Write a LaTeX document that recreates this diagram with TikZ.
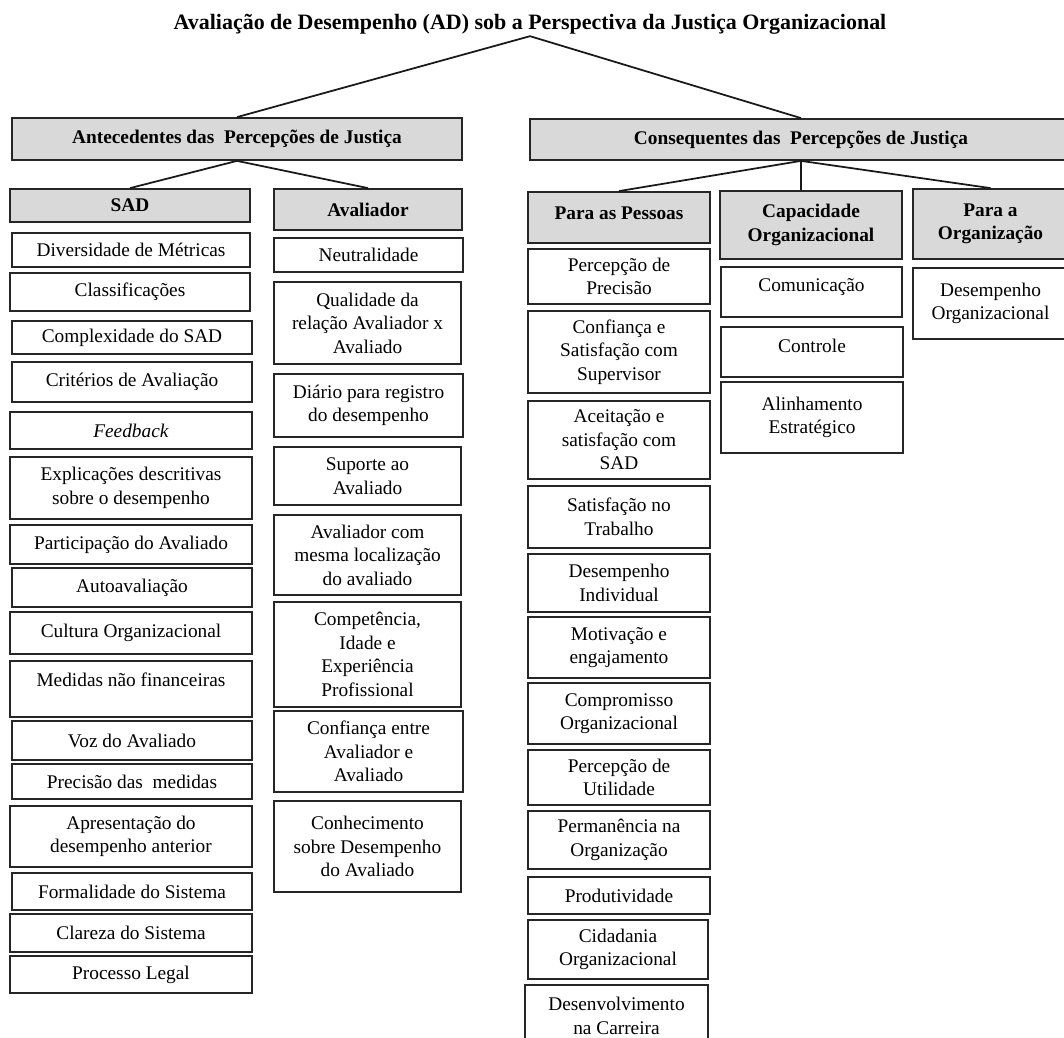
\documentclass[tikz,border=0pt]{standalone}
\usepackage{fontspec}
\setmainfont{Liberation Serif}

\tikzset{
  box/.style={draw=black!85, line width=1pt, inner sep=0pt, align=center,
    font=\fontsize{11}{13.4}\selectfont},
  head/.style={box, fill=gray!30, font=\bfseries\fontsize{11}{13.4}\selectfont},
  cell/.style 2 args={minimum width=#1*0.02cm, minimum height=#2*0.02cm},
  link/.style={line width=1pt, draw=black!90}
}

\begin{document}
\begin{tikzpicture}[x=0.02cm, y=-0.02cm]
\useasboundingbox (0,0) rectangle (1064,1037);

\node[font=\bfseries\fontsize{12.5}{15}\selectfont, inner sep=1pt] (title) at (530,24)
  {Avaliação de Desempenho (AD) sob a Perspectiva da Justiça Organizacional};

% antecedentes / consequentes
\node[head, cell={450}{42}] (ante) at (237,139) {Antecedentes das\ \ Percepções de Justiça};
\node[head, cell={542}{41}] (cons) at (801,139.5) {Consequentes das\ \ Percepções de Justiça};

\node[head, cell={240}{33}] (sad) at (130,205.5) {SAD};
\node[head, cell={188}{41}] (aval) at (368,209.5) {Avaliador};
\node[head, cell={182}{51}, text depth=5.4pt] (pess) at (619,217.5) {Para as Pessoas};
\node[head, cell={182}{68}] (cap) at (811,225) {Capacidade\\Organizacional};
\node[head, cell={155}{70}] (porg) at (990.5,224) {Para a\\Organização};

% SAD
\node[box, cell={238}{34}] (d1) at (131,250) {Diversidade de Métricas};
\node[box, cell={240}{38}] (d2) at (130,292) {Classificações};
\node[box, cell={240}{33}] (d3) at (132,337.5) {Complexidade do SAD};
\node[box, cell={240}{40}] (d4) at (132,382) {Critérios de Avaliação};
\node[box, cell={242}{37}] (d5) at (131,430.5) {\textit{Feedback}};
\node[box, cell={242}{62}] (d6) at (131,488) {Explicações descritivas\\sobre o desempenho};
\node[box, cell={242}{39}] (d7) at (131,544.5) {Participação do Avaliado};
\node[box, cell={240}{39}] (d8) at (132,587.5) {Autoavaliação};
\node[box, cell={242}{42}] (d9) at (131,633) {Cultura Organizacional};
\node[box, cell={242}{56}, text depth=10.4pt] (d10) at (131,689) {Medidas não financeiras};
\node[box, cell={240}{39}] (d11) at (132,740.5) {Voz do Avaliado};
\node[box, cell={240}{35}] (d12) at (132,781.5) {Precisão das\ \ medidas};
\node[box, cell={242}{61}] (d13) at (131,836.5) {Apresentação do\\desempenho anterior};
\node[box, cell={240}{37}] (d14) at (132,891.5) {Formalidade do Sistema};
\node[box, cell={242}{38}] (d15) at (131,933) {Clareza do Sistema};
\node[box, cell={242}{37}] (d16) at (131,974.5) {Processo Legal};

% avaliador
\node[box, cell={189}{34}] (a1) at (368.5,255) {Neutralidade};
\node[box, cell={187}{82}] (a2) at (367.5,323) {Qualidade da\\relação Avaliador x\\Avaliado};
\node[box, cell={189}{63}] (a3) at (368.5,405.5) {Diário para registro\\do desempenho};
\node[box, cell={187}{58}] (a4) at (367.5,476) {Suporte ao\\Avaliado};
\node[box, cell={187}{80}] (a5) at (367.5,555) {Avaliador com\\mesma localização\\do avaliado};
\node[box, cell={187}{105}] (a6) at (367.5,654.5) {Competência,\\Idade e\\Experiência\\Profissional};
\node[box, cell={189}{81}] (a7) at (368.5,751.5) {Confiança entre\\Avaliador e\\Avaliado};
\node[box, cell={187}{91}] (a8) at (367.5,846.5) {Conhecimento\\sobre Desempenho\\do Avaliado};

% para as pessoas
\node[box, cell={182}{55}] (p1) at (619,276.5) {Percepção de\\Precisão};
\node[box, cell={182}{82}] (p2) at (619,352) {Confiança e\\Satisfação com\\Supervisor};
\node[box, cell={182}{78}] (p3) at (619,440) {Aceitação e\\satisfação com\\SAD};
\node[box, cell={182}{62}] (p4) at (619,517) {Satisfação no\\Trabalho};
\node[box, cell={182}{58}] (p5) at (619,583) {Desempenho\\Individual};
\node[box, cell={182}{61}] (p6) at (619,647.5) {Motivação e\\engajamento};
\node[box, cell={182}{61}] (p7) at (619,713.5) {Compromisso\\Organizacional};
\node[box, cell={182}{55}] (p8) at (619,777.5) {Percepção de\\Utilidade};
\node[box, cell={182}{58}] (p9) at (619,840) {Permanência na\\Organização};
\node[box, cell={182}{37}] (p10) at (619,895.5) {Produtividade};
\node[box, cell={180}{59}] (p11) at (618,949.5) {Cidadania\\Organizacional};
\node[box, cell={183}{62}] (p12) at (616.5,1016) {Desenvolvimento\\na Carreira};

% capacidade / organizacao
\node[box, cell={181}{50}, text depth=8.1pt] (c1) at (811.5,292) {Comunicação};
\node[box, cell={182}{50}, text depth=6.9pt] (c2) at (812,352) {Controle};
\node[box, cell={182}{71}] (c3) at (812,417.5) {Alinhamento\\Estratégico};
\node[box, cell={155}{71}] (o1) at (990.5,303.5) {Desempenho\\Organizacional};

\draw[link] (title.south) -- (ante.north);
\draw[link] (title.south) -- (cons.north);
\draw[link] (ante.south) -- (sad.north);
\draw[link] (ante.south) -- (aval.north);
\draw[link] (cons.south) -- (pess.north);
\draw[link] (cons.south) -- (cons.south |- cap.north);
\draw[link] (cons.south) -- (porg.north);
\end{tikzpicture}
\end{document}
